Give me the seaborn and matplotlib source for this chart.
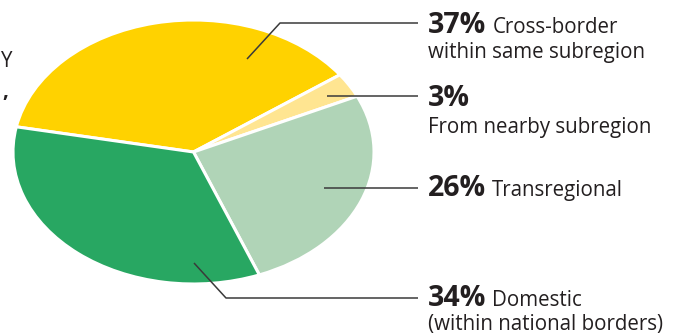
import matplotlib
matplotlib.use("Agg")
import matplotlib.pyplot as plt
import seaborn as sns

# ---- data ----
categories = ["Cross-border within same subregion", "From nearby subregion",
              "Transregional", "Domestic (within national borders)"]
shares = [37, 3, 26, 34]
pct_labels = ["37%", "3%", "26%", "34%"]
first_lines = ["Cross-border", "", "Transregional", "Domestic"]
second_lines = ["within same subregion", "From nearby subregion", "", "(within national borders)"]
colors = ["#FFD200", "#FFE591", "#B0D4B7", "#28A762"]

sns.set_theme(style="white")
plt.rcParams["font.family"] = ["Open Sans", "DejaVu Sans"]

W, H = 683, 336
fig = plt.figure(figsize=(W / 100, H / 100), dpi=100)
fig.patch.set_facecolor("white")

# pie axes: ellipse centre (193.5,152) px, radii 180.5 x 132 px
cx, cy, rx, ry = 193.5, 152, 180.5, 132
ax = fig.add_axes([(cx - rx) / W, (H - cy - ry) / H, 2 * rx / W, 2 * ry / H])
ax.pie(shares, colors=colors, startangle=169, counterclock=False,
       radius=1, wedgeprops=dict(edgecolor="white", linewidth=2.2))
ax.set_aspect("auto")
ax.set_xlim(-1, 1)
ax.set_ylim(-1, 1)
ax.axis("off")

# overlay in pixel coordinates for labels / leader lines
ov = fig.add_axes([0, 0, 1, 1])
ov.set_xlim(0, W)
ov.set_ylim(H, 0)
ov.axis("off")
ov.patch.set_alpha(0)

lc = "#3a3a3a"
lw = 1.1
leaders = [
    [(247, 59), (280, 23), (418, 23)],
    [(327, 96), (418, 96)],
    [(324, 188), (418, 188)],
    [(194, 263), (226, 298), (418, 298)],
]
for pts in leaders:
    xs, ys = zip(*pts)
    ov.plot(xs, ys, color=lc, lw=lw, solid_capstyle="butt")

tc = "#231F20"
bold_size = 20.5
reg_size = 14.8
baselines = [33, 106, 196, 306]
second_base = [58, 133, None, 330]
tx = 428

fig.canvas.draw()
renderer = fig.canvas.get_renderer()
for i in range(len(shares)):
    t = ov.text(tx, baselines[i], pct_labels[i], fontsize=bold_size, fontweight="bold",
                color=tc, ha="left", va="baseline")
    if first_lines[i]:
        bb = t.get_window_extent(renderer=renderer)
        x_end = bb.x1
        ov.text(x_end + 6, baselines[i], first_lines[i], fontsize=reg_size,
                color=tc, ha="left", va="baseline")
    if second_lines[i]:
        ov.text(tx, second_base[i], second_lines[i], fontsize=reg_size,
                color=tc, ha="left", va="baseline")

# cut-off text fragments at the left edge
ov.text(0, 67, "Y", fontsize=reg_size, color=tc, ha="left", va="baseline")
ov.text(8, 97, ",", fontsize=reg_size, color=tc, ha="right", va="baseline",
        fontweight="bold")

fig.savefig("out.png", dpi=100, facecolor="white")
